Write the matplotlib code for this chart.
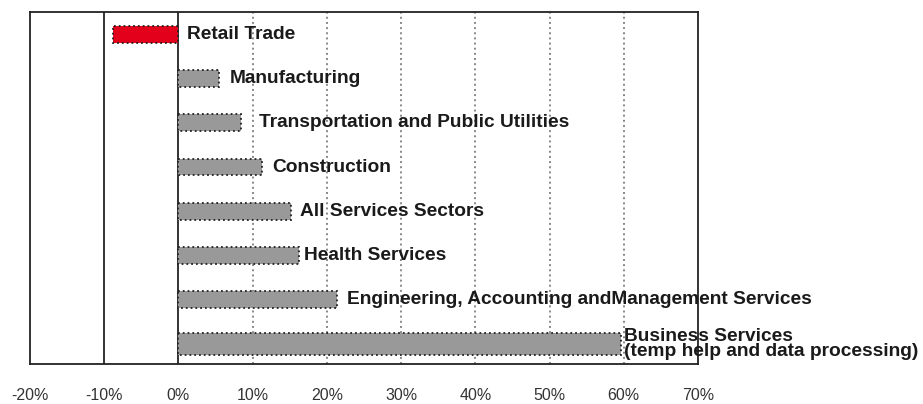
import matplotlib.pyplot as plt

# Data
sectors = [
    "Retail Trade",
    "Manufacturing",
    "Transportation and Public Utilities",
    "Construction",
    "All Services Sectors",
    "Health Services",
    "Engineering, Accounting andManagement Services",
    "Business Services\n(temp help and data processing)",
]
growth = [-8.8, 5.4, 8.4, 11.3, 15.1, 16.2, 21.4, 59.6]
tick_values = [-20, -10, 0, 10, 20, 30, 40, 50, 60, 70]

# label gap after the bar end, in points
label_gap = [6, 8, 13, 7, 7, 4, 7, 2]

fig = plt.figure(figsize=(9.23, 4.04), dpi=100)
ax = fig.add_axes([0.0325, 0.099, 0.7237, 0.871])

font = ['Liberation Sans Narrow', 'Liberation Sans', 'DejaVu Sans']

colors = ['#e3001b' if v < 0 else '#999999' for v in growth]
y = list(range(len(sectors)))
heights = [0.38] * (len(sectors) - 1) + [0.48]
ax.barh(y, growth, height=heights, color=colors, edgecolor='#222222',
        linestyle=':', linewidth=1.3, zorder=3)

# reference lines and grid
for v in tick_values[1:]:
    if v in (-10, 0):
        ax.axvline(v, color='#222222', linewidth=1.3, zorder=2)
    elif v < 70:
        ax.axvline(v, color='#888888', linestyle=':', linewidth=1.4, zorder=1)

for yi, v, name, gap in zip(y, growth, sectors, label_gap):
    x0 = max(v, 0)
    ax.annotate(name, (x0, yi), xytext=(gap, 0), textcoords='offset points',
                ha='left', va='center', fontsize=13.8, fontweight='bold',
                family=font, color='#1a1a1a', linespacing=0.9, zorder=4,
                annotation_clip=False)

ax.set_xlim(-20, 70)
ax.set_ylim(len(sectors) - 0.55, -0.5)
ax.set_xticks(tick_values)
ax.set_xticklabels([f"{v}%" for v in tick_values], family=font, fontsize=11.5,
                   color='#333333')
ax.tick_params(axis='x', length=0, pad=17)
ax.set_yticks([])
for s in ax.spines.values():
    s.set_color('#222222')
    s.set_linewidth(1.3)

fig.savefig('out.png', dpi=100)
